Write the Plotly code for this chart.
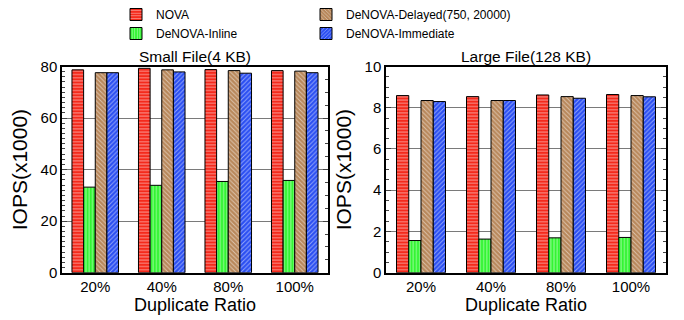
import plotly.graph_objects as go

categories = ["20%", "40%", "80%", "100%"]
series_names = ["NOVA", "DeNOVA-Inline", "DeNOVA-Delayed(750, 20000)", "DeNOVA-Immediate"]

small_nova = [78.7, 79.3, 78.8, 78.4]
small_inline = [33.2, 33.9, 35.4, 35.8]
small_delayed = [77.6, 78.7, 78.4, 78.2]
small_immediate = [77.6, 77.9, 77.4, 77.6]

large_nova = [8.59, 8.54, 8.62, 8.64]
large_inline = [1.56, 1.63, 1.69, 1.71]
large_delayed = [8.35, 8.35, 8.54, 8.59]
large_immediate = [8.30, 8.35, 8.46, 8.53]

colors = ["#f42a1c", "#33f533", "#b8875a", "#2a4ef2"]
shapes = ["-", "|", "\\", "/"]

FONT = "Liberation Sans, Arial, Helvetica, sans-serif"

fig = go.Figure()

small = [small_nova, small_inline, small_delayed, small_immediate]
large = [large_nova, large_inline, large_delayed, large_immediate]

for i, name in enumerate(series_names):
    leg = "legend" if i < 2 else "legend2"
    for j, (vals, xa, ya) in enumerate([(small[i], "x", "y"), (large[i], "x2", "y2")]):
        fig.add_trace(go.Bar(
            x=categories, y=vals, name=name, xaxis=xa, yaxis=ya,
            showlegend=(j == 0), legend=leg, legendgroup=name,
            marker=dict(color=colors[i], line=dict(color="black", width=1),
                        pattern=dict(shape=shapes[i], fgcolor="white", fillmode="overlay",
                                     size=3.2, solidity=0.3)),
        ))

# invisible traces to activate the right-side tick axes
fig.add_trace(go.Scatter(x=[None], y=[None], xaxis="x", yaxis="y3", showlegend=False, hoverinfo="skip"))
fig.add_trace(go.Scatter(x=[None], y=[None], xaxis="x2", yaxis="y4", showlegend=False, hoverinfo="skip"))

ydom = [1 - 272.7 / 320, 1 - 66.5 / 320]
xd1 = [62 / 684, 328 / 684]
xd2 = [386 / 684, 666 / 684]
tickf = dict(size=15, color="black", family=FONT)
line = dict(showline=True, linecolor="black", linewidth=1.5, automargin=False)

fig.update_layout(
    width=684, height=320,
    margin=dict(l=0, r=0, t=0, b=0),
    paper_bgcolor="white", plot_bgcolor="white",
    barmode="group", bargap=0.3, bargroupgap=0.0,
    font=dict(family=FONT, color="black"),
    xaxis=dict(domain=xd1, anchor="y", ticks="", mirror=True, tickfont=tickf, **line,
               title=dict(text="Duplicate Ratio", font=dict(size=18), standoff=2)),
    xaxis2=dict(domain=xd2, anchor="y2", ticks="", mirror=True, tickfont=tickf, **line,
                title=dict(text="Duplicate Ratio", font=dict(size=18), standoff=2)),
    yaxis=dict(domain=ydom, anchor="x", range=[0, 80], dtick=20, ticks="inside", ticklen=5,
               showgrid=True, gridcolor="#7a7a7a", gridwidth=1, tickfont=tickf, **line,
               minor=dict(ticks="inside", ticklen=3, dtick=2, showgrid=False),
               title=dict(text="IOPS(x1000)", font=dict(size=21), standoff=7)),
    yaxis3=dict(domain=ydom, anchor="x", overlaying="y", side="right", range=[0, 80], dtick=20,
                ticks="inside", ticklen=5, showticklabels=False, showgrid=False, **line,
                minor=dict(ticks="inside", ticklen=3, dtick=5, showgrid=False)),
    yaxis2=dict(domain=ydom, anchor="x2", range=[0, 10], dtick=2, ticks="inside", ticklen=5,
                showgrid=True, gridcolor="#7a7a7a", gridwidth=1, tickfont=tickf, **line,
                minor=dict(ticks="inside", ticklen=3, dtick=0.5, showgrid=False),
                title=dict(text="IOPS(x1000)", font=dict(size=21), standoff=7)),
    yaxis4=dict(domain=ydom, anchor="x2", overlaying="y2", side="right", range=[0, 10], dtick=2,
                ticks="inside", ticklen=5, showticklabels=False, showgrid=False, **line,
                minor=dict(ticks="inside", ticklen=3, dtick=0.5, showgrid=False)),
    legend=dict(x=116 / 684, y=1.0, xanchor="left", yanchor="top", orientation="v",
                font=dict(size=12), bgcolor="rgba(0,0,0,0)", tracegroupgap=0,
                itemwidth=30, traceorder="normal"),
    legend2=dict(x=306 / 684, y=1.0, xanchor="left", yanchor="top", orientation="v",
                 font=dict(size=12), bgcolor="rgba(0,0,0,0)", tracegroupgap=0,
                 itemwidth=30, traceorder="normal"),
    annotations=[
        dict(text="Small File(4 KB)", x=(62 + 328) / 2 / 684, y=1 - 57 / 320, xref="paper", yref="paper",
             showarrow=False, font=dict(size=15.5), xanchor="center", yanchor="middle"),
        dict(text="Large File(128 KB)", x=(386 + 666) / 2 / 684, y=1 - 57 / 320, xref="paper", yref="paper",
             showarrow=False, font=dict(size=15.5), xanchor="center", yanchor="middle"),
    ],
)

fig.write_html("out.html", config={"displayModeBar": False},
               post_script="document.body.style.margin='0';")
